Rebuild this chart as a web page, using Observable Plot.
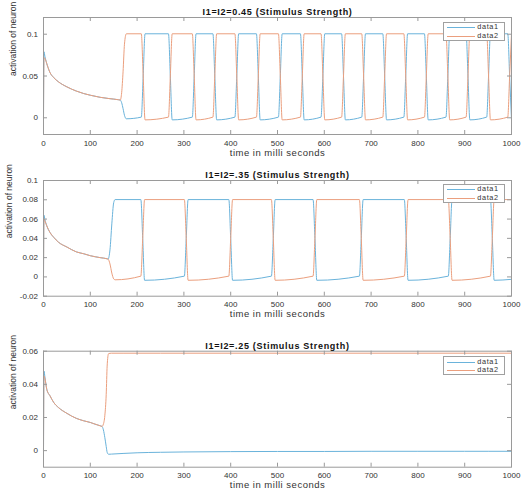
<!DOCTYPE html>
<html><head><meta charset="utf-8">
<script src="https://cdn.jsdelivr.net/npm/d3@7"></script>
<script src="https://cdn.jsdelivr.net/npm/@observablehq/plot@0.6"></script>
<style>
html,body{margin:0;padding:0;background:#fff;}
#root{position:relative;width:521px;height:491px;overflow:hidden;background:#fff;font-family:"Liberation Sans",Arial,Helvetica,sans-serif;}
#root svg{display:block;}
.legend{position:absolute;background:#fff;border:1px solid #a0a0a0;box-sizing:border-box;width:62px;height:19.5px;}
.legend .row{position:absolute;left:0;height:8.4px;width:100%;}
.legend .sw{position:absolute;left:3.6px;top:4px;width:27.7px;height:0;border-top:1px solid;}
.legend .lb{position:absolute;left:33.6px;top:0;font-size:7.3px;line-height:8.4px;color:#333;letter-spacing:0.65px;white-space:nowrap;}
</style></head><body><div id="root"></div>
<script>
// ---------- data ----------
const seriesNames = ["data1", "data2"];
const titles = ["I1=I2=0.45 (Stimulus Strength)", "I1=I2=.35 (Stimulus Strength)", "I1=I2=.25 (Stimulus Strength)"];
const xLabel = "time in milli seconds";
const yLabel = "activation of neuron";
const xTicks = [0, 100, 200, 300, 400, 500, 600, 700, 800, 900, 1000];
const p1YTicks = [0, 0.05, 0.1];
const p2YTicks = [-0.02, 0, 0.02, 0.04, 0.06, 0.08, 0.1];
const p3YTicks = [0, 0.02, 0.04, 0.06];

const p1Time = [0,1,3,8,14,22,32,50,70,86,100,121,140,160,164,167,170,173,177,
 209,213,217, 267,271,275, 318,322,326, 362,366,370, 409,413,417, 455,459,463,
 502,506,510, 549,553,557, 593,597,601, 637,641,645, 680,684,688, 725,729,733,
 770,774,778, 814,818,822, 860,864,868, 903,907,911, 947,951,955, 992,996,1000];
const p1Data1 = [0,0.079,0.0735,0.063,0.054,0.048,0.043,0.037,0.032,0.029,0.027,0.0245,0.023,0.0216,0.0212,0.018,0.011,0.003,-0.0012,
 0.0008,0.05,0.1005, 0.1005,0.05,-0.0025, 0.0008,0.05,0.1005, 0.1005,0.05,-0.0025,
 0.0008,0.05,0.1005, 0.1005,0.05,-0.0025, 0.0008,0.05,0.1005, 0.1005,0.05,-0.0025,
 0.0008,0.05,0.1005, 0.1005,0.05,-0.0025, 0.0008,0.05,0.1005, 0.1005,0.05,-0.0025,
 0.0008,0.05,0.1005, 0.1005,0.05,-0.0025, 0.0008,0.05,0.1005, 0.1005,0.05,-0.0025,
 0.0008,0.05,0.1005, 0.1005,0.05,-0.0025];
const p1Data2 = [0,0.072,0.071,0.063,0.054,0.048,0.043,0.037,0.032,0.029,0.027,0.0245,0.023,0.0216,0.0212,0.03,0.055,0.088,0.1005,
 0.1005,0.05,-0.0025, 0.0008,0.05,0.1005, 0.1005,0.05,-0.0025, 0.0008,0.05,0.1005,
 0.1005,0.05,-0.0025, 0.0008,0.05,0.1005, 0.1005,0.05,-0.0025, 0.0008,0.05,0.1005,
 0.1005,0.05,-0.0025, 0.0008,0.05,0.1005, 0.1005,0.05,-0.0025, 0.0008,0.05,0.1005,
 0.1005,0.05,-0.0025, 0.0008,0.05,0.1005, 0.1005,0.05,-0.0025, 0.0008,0.05,0.1005,
 0.1005,0.05,-0.0025, 0.0008,0.05,0.1005];

const p2Time = [0,1,3,7,14,22,32,50,70,86,100,121,136,138,142,146,150,153,
 208,212,216, 301,305,309, 396,400,404, 487,491,495, 576,580,584, 675,679,683,
 771,775,779, 865,869,873, 955,959,963, 1000];
const p2Data1 = [0,0.064,0.0595,0.053,0.046,0.041,0.036,0.031,0.026,0.024,0.022,0.020,0.0188,0.0185,0.028,0.055,0.077,0.0802,
 0.0802,0.04,-0.0035, 0.0008,0.04,0.0802, 0.0802,0.04,-0.0035, 0.0008,0.04,0.0802,
 0.0802,0.04,-0.0035, 0.0008,0.04,0.0802, 0.0802,0.04,-0.0035, 0.0008,0.04,0.0802,
 0.0802,0.04,-0.0035, -0.0025];
const p2Data2 = [0,0.060,0.058,0.053,0.046,0.041,0.036,0.031,0.026,0.024,0.022,0.020,0.0188,0.0185,0.0135,0.004,-0.002,-0.003,
 0.0008,0.04,0.0802, 0.0802,0.04,-0.0035, 0.0008,0.04,0.0802, 0.0802,0.04,-0.0035,
 0.0008,0.04,0.0802, 0.0802,0.04,-0.0035, 0.0008,0.04,0.0802, 0.0802,0.04,-0.0035,
 0.0008,0.04,0.0802, 0.0802];

const p3Time = [0,1,3,7,14,22,32,50,70,86,100,110,121,125,128,131,134,136,139,145,170,200,250,300,400,500,600,700,800,900,1000];
const p3Data1 = [0,0.048,0.0445,0.037,0.033,0.029,0.026,0.0225,0.0195,0.018,0.017,0.016,0.015,0.0146,0.0125,
 0.008,0.0025,-0.001,-0.0022,-0.0021,-0.0017,-0.0013,-0.001,-0.0008,-0.0006,-0.0005,-0.0005,-0.0004,-0.0004,-0.0004,-0.0004];
const p3Data2 = [0,0.045,0.0435,0.037,0.033,0.029,0.026,0.0225,0.0195,0.018,0.017,0.016,0.015,0.0146,0.016,
 0.021,0.034,0.051,0.0585,0.0588,0.0588,0.0588,0.0588,0.0588,0.0588,0.0588,0.0588,0.0588,0.0588,0.0588,0.0588];

// ---------- style ----------
const colors = ["#6ab3db", "#eb9f7e"];
const W = 521, ML = 43, MR = 10;
const axisGray = "#9a9a9a";
const textColor = "#333";
const FONT = '"Liberation Sans", Arial, Helvetica, sans-serif';

const panels = [
  {title: titles[0], time: p1Time, d1: p1Data1, d2: p1Data2, yDomain: [-0.02, 0.12], yTicks: p1YTicks, height: 160, mt: 17, mb: 26, legendTop: 21.5, ylabelX: 12.3},
  {title: titles[1], time: p2Time, d1: p2Data1, d2: p2Data2, yDomain: [-0.02, 0.1], yTicks: p2YTicks, height: 170, mt: 20, mb: 34.3, legendTop: 183.5, ylabelX: 8.3},
  {title: titles[2], time: p3Time, d1: p3Data1, d2: p3Data2, yDomain: [-0.01, 0.06], yTicks: p3YTicks, height: 161, mt: 20.7, mb: 24.3, legendTop: 355.7, ylabelX: 12.3}
];

const root = document.getElementById("root");

panels.forEach((p) => {
  const fh = p.height - p.mt - p.mb;
  const fw = W - ML - MR;
  const rows1 = p.time.map((t, i) => ({t, v: p.d1[i]}));
  const rows2 = p.time.map((t, i) => ({t, v: p.d2[i]}));
  const svg = Plot.plot({
    width: W, height: p.height,
    marginTop: p.mt, marginBottom: p.mb, marginLeft: ML, marginRight: MR,
    style: {fontFamily: FONT, fontSize: "8px", color: textColor, background: "#fff", overflow: "visible"},
    x: {domain: [0, 1000], label: null},
    y: {domain: p.yDomain, label: null},
    marks: [
      Plot.line(rows1, {x: "t", y: "v", stroke: colors[0], strokeWidth: 1, curve: "monotone-x"}),
      Plot.line(rows2, {x: "t", y: "v", stroke: colors[1], strokeWidth: 1, curve: "monotone-x"}),
      Plot.frame({stroke: axisGray, strokeWidth: 1}),
      Plot.ruleX(xTicks, {x: d => d, insetTop: fh - 4, stroke: axisGray}),
      Plot.ruleX(xTicks, {x: d => d, insetBottom: fh - 4, stroke: axisGray}),
      Plot.ruleY(p.yTicks, {y: d => d, insetRight: fw - 4, stroke: axisGray}),
      Plot.ruleY(p.yTicks, {y: d => d, insetLeft: fw - 4, stroke: axisGray}),
      Plot.axisX({ticks: xTicks, tickFormat: d => String(d), tickSize: 0, tickPadding: 5.5, label: null, fill: textColor}),
      Plot.axisY({ticks: p.yTicks, tickFormat: d => String(d), tickSize: 0, tickPadding: 5.5, label: null, fill: textColor}),
      Plot.text([p.title], {text: d => d, frameAnchor: "top", dy: -2.5, lineAnchor: "bottom", fontWeight: "bold", fontSize: 9, fill: "#111"}),
      Plot.text([xLabel], {text: d => d, frameAnchor: "bottom", dy: 21, lineAnchor: "bottom", fontSize: 9.5, fill: textColor}),
      Plot.text([yLabel], {text: d => d, frameAnchor: "left", dx: -(ML - p.ylabelX), rotate: -90, lineAnchor: "middle", fontSize: 8.5, fill: textColor})
    ]
  });
  // widen title and x label letter spacing to match the reference
  d3.select(svg).selectAll("text").each(function () {
    const s = this.textContent;
    if (s === p.title) this.style.letterSpacing = "0.7px";
    else if (s === xLabel) this.style.letterSpacing = "0.5px";
  });
  root.appendChild(svg);

  const lg = document.createElement("div");
  lg.className = "legend";
  lg.style.left = "442.7px";
  lg.style.top = p.legendTop + "px";
  seriesNames.forEach((name, i) => {
    const row = document.createElement("div");
    row.className = "row";
    row.style.top = (i === 0 ? 0.9 : 9.3) + "px";
    const sw = document.createElement("span");
    sw.className = "sw";
    sw.style.borderTopColor = colors[i];
    const lb = document.createElement("span");
    lb.className = "lb";
    lb.textContent = name;
    row.appendChild(sw);
    row.appendChild(lb);
    lg.appendChild(row);
  });
  root.appendChild(lg);
});
</script></body></html>
